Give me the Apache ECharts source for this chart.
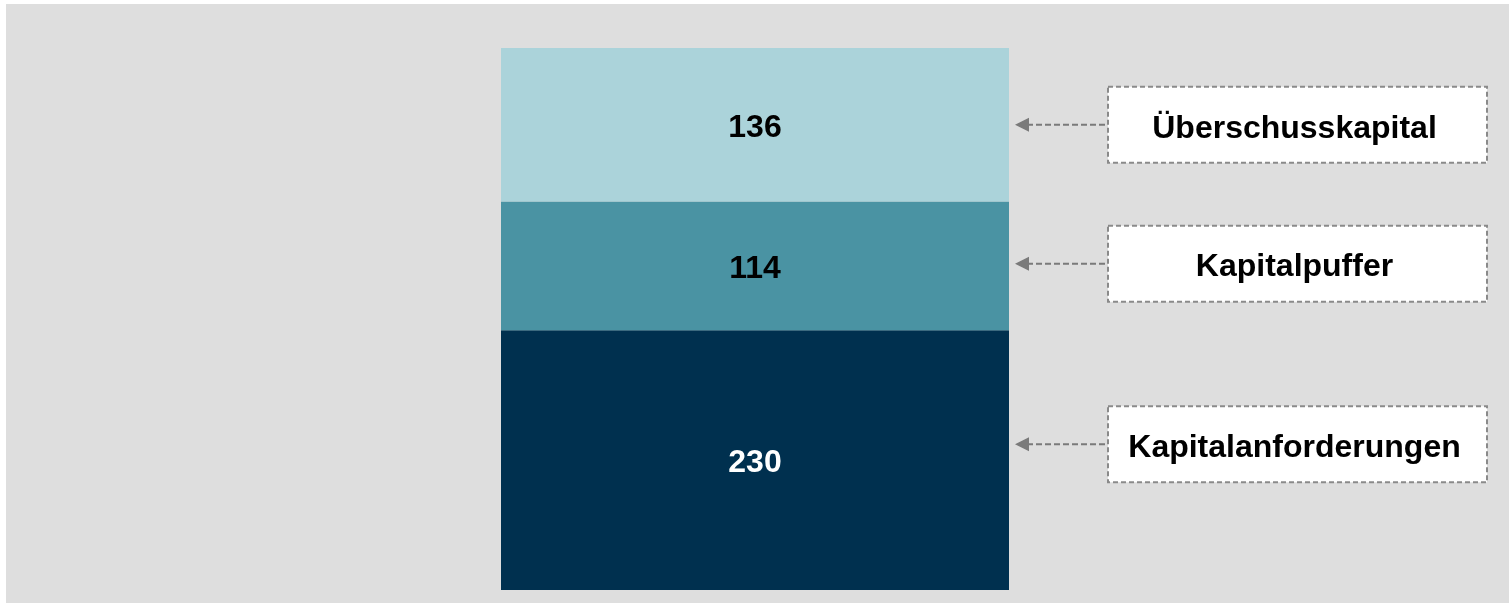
<!DOCTYPE html>
<html>
<head>
<meta charset="utf-8">
<style>
html,body{margin:0;padding:0;background:#ffffff;}
#chart{width:1509px;height:605px;}
</style>
<script src="https://cdn.jsdelivr.net/npm/echarts@6/dist/echarts.min.js"></script>
</head>
<body>
<div id="chart"></div>
<script>
// Data
var categories = [''];
var seriesNames = ['Kapitalanforderungen', 'Kapitalpuffer', 'Überschusskapital'];
var seriesValues = [[230], [114], [136]];
var seriesColors = ['#00304f', '#4a93a3', '#abd3da'];
var labelColors = ['#ffffff', '#000000', '#000000'];
// value on the y scale at which each callout box is anchored
var calloutAnchors = [129, 289, 412];

var chart = echarts.init(document.getElementById('chart'));

var series = seriesNames.map(function (name, i) {
  return {
    name: name,
    type: 'bar',
    stack: 'total',
    barWidth: '100%',
    data: seriesValues[i],
    itemStyle: { color: seriesColors[i] },
    label: {
      show: true,
      position: 'inside',
      offset: [0, 3],
      color: labelColors[i],
      fontFamily: 'Liberation Sans, Arial, sans-serif',
      fontWeight: 'bold',
      fontSize: 32
    },
    emphasis: { disabled: true }
  };
});

chart.setOption({
  animation: false,
  backgroundColor: '#ffffff',
  grid: { left: 501, right: 500, top: 48, bottom: 15 },
  xAxis: { type: 'category', data: categories, show: false },
  yAxis: { type: 'value', min: 0, max: 480, show: false },
  series: series
});

function drawCallouts() {
  var elements = [{
    type: 'rect', z: -10, silent: true,
    shape: { x: 6, y: 4, width: 1503, height: 599 },
    style: { fill: '#dedede' }
  }];
  var boxLeft = 1108, boxW = 379, boxH = 76, tipX = 1015;
  seriesNames.forEach(function (name, i) {
    var y = chart.convertToPixel({ yAxisIndex: 0 }, calloutAnchors[i]);
    elements.push({
      type: 'line', silent: true,
      shape: { x1: tipX + 12, y1: y, x2: boxLeft, y2: y },
      style: { stroke: '#7a7a7a', lineWidth: 2, lineDash: [6, 3] }
    });
    elements.push({
      type: 'polygon', silent: true,
      shape: { points: [[tipX, y], [tipX + 14, y - 7], [tipX + 14, y + 7]] },
      style: { fill: '#7a7a7a' }
    });
    elements.push({
      type: 'rect', silent: true,
      shape: { x: boxLeft, y: y - boxH / 2, width: boxW, height: boxH },
      style: { fill: '#ffffff', stroke: '#8a8a8a', lineWidth: 2, lineDash: [5, 3] }
    });
    elements.push({
      type: 'text', silent: true,
      x: boxLeft + boxW / 2 - 3, y: y + 4,
      style: {
        text: name, fill: '#000000',
        font: 'bold 32px "Liberation Sans", Arial, sans-serif',
        align: 'center', verticalAlign: 'middle'
      }
    });
  });
  chart.setOption({ graphic: elements });
}
drawCallouts();
</script>
</body>
</html>
